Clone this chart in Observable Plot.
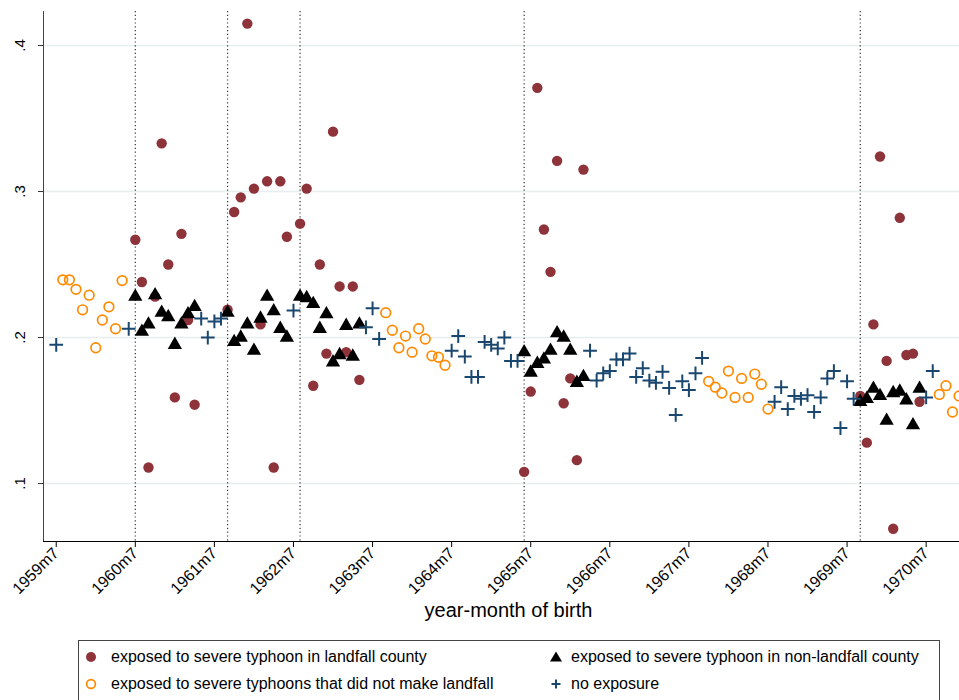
<!DOCTYPE html>
<html><head><meta charset="utf-8">
<script src="https://cdn.jsdelivr.net/npm/d3@7"></script>
<script src="https://cdn.jsdelivr.net/npm/@observablehq/plot@0.6"></script>
<style>
html,body{margin:0;padding:0;background:#fff;overflow:hidden;}
body{font-family:"Liberation Sans",Arial,Helvetica,sans-serif;color:#000;}
#legend{position:relative;margin:10px 0 0 78px;width:862px;height:80px;border:1px solid #444;box-sizing:border-box;font-size:16px;}
#legend .sym{position:absolute;}
#legend .lab{position:absolute;line-height:18px;white-space:nowrap;}
</style></head>
<body>
<div id="chart"></div>
<div id="legend"></div>
<script>
// month index: 0 = 1959m7
const xTickMonths = [0,12,24,36,48,60,72,84,96,108,120,132];
const xTickLabels = ["1959m7","1960m7","1961m7","1962m7","1963m7","1964m7","1965m7","1966m7","1967m7","1968m7","1969m7","1970m7"];
const yTicks = [0.1,0.2,0.3,0.4];
const yTickLabels = [".1",".2",".3",".4"];
const eventMonths = [12,26,37,71,122];
const xTitle = "year-month of birth";

const landfallMonths = [12,13,14,15,16,17,18,19,20,21, 26,27,28,29,30,31,32,33,34,35,37,38,39,40,41,42,43,44,45,46, 71,72,73,74,75,76,77,78,79,80, 122,123,124,125,126,127,128,129,130,131];
const landfallValues = [.267,.238,.111,.228,.333,.250,.159,.271,.212,.154, .219,.286,.296,.415,.302,.209,.307,.111,.307,.269,.278,.302,.167,.250,.189,.341,.235,.190,.235,.171, .108,.163,.371,.274,.245,.321,.155,.172,.116,.315, .160,.128,.209,.324,.184,.069,.282,.188,.189,.156];

const nonLandfallMonths = [12,13,14,15,16,17,18,19,20,21, 26,27,28,29,30,31,32,33,34,35,37,38,39,40,41,42,43,44,45,46, 71,72,73,74,75,76,77,78,79,80, 122,123,124,125,126,127,128,129,130,131];
const nonLandfallValues = [.228,.204,.209,.229,.217,.214,.195,.209,.216,.221, .217,.197,.200,.209,.191,.213,.228,.218,.206,.200,.228,.227,.223,.206,.216,.183,.188,.208,.187,.209, .190,.176,.182,.185,.191,.203,.200,.191,.169,.173, .156,.158,.165,.160,.143,.162,.163,.157,.140,.165];

const noLandMonths = [1,2,3,4,5,6,7,8,9,10, 50,51,52,53,54,55,56,57,58,59, 99,100,101,102,103,104,105,106,107,108, 134,135,136,137];
const noLandValues = [.2395,.2395,.233,.219,.229,.193,.212,.221,.206,.239, .217,.205,.193,.201,.190,.206,.199,.1875,.1865,.181, .170,.166,.162,.177,.159,.172,.159,.175,.168,.151, .161,.167,.149,.160];

const noExpMonths = [0,11,22,23,24,25,36,47,48,49, 60,61,62,63,64,65,66,67,68,69,70, 81,82,83,84,85,86,87,88,89,90,91,92,93,94,95,96,97,98, 109,110,111,112,113,114,115,116,117,118,119,120,121, 132,133];
const noExpValues = [.195,.206,.213,.200,.211,.213,.2185,.207,.220,.199, .191,.201,.187,.173,.173,.197,.195,.1925,.200,.184,.184, .191,.1705,.1755,.177,.185,.185,.189,.173,.179,.1705,.169,.1765,.1655,.147,.170,.164,.1755,.186, .156,.166,.151,.160,.158,.1605,.149,.159,.172,.177,.138,.170,.158, .159,.177];

const seriesLabels = ["exposed to severe typhoon in landfall county","exposed to severe typhoon in non-landfall county","exposed to severe typhoons that did not make landfall","no exposure"];
const colors = {red:"#8e3339", tri:"#000000", orange:"#ff8a00", blue:"#1a476f"};

const zip = (ms, vs) => ms.map((m,i)=>({t:m, v:vs[i]}));
const landfall = zip(landfallMonths, landfallValues);
const nonLandfall = zip(nonLandfallMonths, nonLandfallValues);
const noLand = zip(noLandMonths, noLandValues);
const noExp = zip(noExpMonths, noExpValues);

const W = 959, H = 630;
const xDom = [-1.93, 137.06], yDom = [0.0603, 0.4233];
const font = '"Liberation Sans", Arial, Helvetica, sans-serif';

const chart = Plot.plot({
  width: W, height: H,
  marginLeft: 43, marginRight: 0, marginTop: 11, marginBottom: H - 541,
  style: {fontFamily: font, background: "white", overflow: "visible", color: "#000"},
  x: {domain: xDom},
  y: {domain: yDom},
  marks: [
    Plot.gridY(yTicks, {stroke: "#e6eef0", strokeOpacity: 1, strokeWidth: 1.5}),
    Plot.ruleX(eventMonths, {stroke: "#333", strokeDasharray: "1.2,2.6", strokeWidth: 1.2}),
    Plot.ruleX([xDom[0]], {stroke: "#444", strokeWidth: 1}),
    Plot.ruleY([yDom[0]], {stroke: "#000", strokeWidth: 1}),
    Plot.axisY(yTicks, {tickFormat: d => yTickLabels[yTicks.indexOf(d)], tickRotate: -90, tickSize: 5, tickPadding: 14, fontSize: 15, label: null, stroke: "#333"}),
    Plot.axisX(xTickMonths, {tickFormat: d => xTickLabels[xTickMonths.indexOf(d)], tickRotate: -45, tickSize: 6, tickPadding: 3, fontSize: 16, label: null, stroke: "#000"}),
    Plot.dot(landfall, {x: "t", y: "v", r: 5.2, fill: colors.red, stroke: "none"}),
    Plot.dot(nonLandfall, {x: "t", y: "v", symbol: "triangle", r: 5.3, fill: colors.tri, stroke: "none"}),
    Plot.dot(noLand, {x: "t", y: "v", r: 4.8, fill: "none", stroke: colors.orange, strokeWidth: 1.7}),
    Plot.dot(noExp, {x: "t", y: "v", symbol: "plus", r: 4.5, stroke: colors.blue, strokeWidth: 2}),
    Plot.text([xTitle], {frameAnchor: "bottom", dx: 7, dy: 75, fontSize: 20, fill: "#000"})
  ]
});
document.getElementById("chart").appendChild(chart);

// legend
const lg = document.getElementById("legend");
const items = [
  {label: seriesLabels[0], col: 0, row: 0, svg: `<circle cx="8" cy="8" r="5" fill="${colors.red}"/>`},
  {label: seriesLabels[1], col: 1, row: 0, svg: `<path d="M8,2.5 L14,12.5 L2,12.5 Z" fill="#000"/>`},
  {label: seriesLabels[2], col: 0, row: 1, svg: `<circle cx="8" cy="8" r="4.4" fill="none" stroke="${colors.orange}" stroke-width="1.7"/>`},
  {label: seriesLabels[3], col: 1, row: 1, svg: `<path d="M8,3.5 V12.5 M3.5,8 H12.5" stroke="${colors.blue}" stroke-width="2"/>`}
];
const colSym = [12 - 8 + 0, 477 - 8], colLab = [32, 492], rowY = [17, 44];
items.forEach(it => {
  const s = document.createElement("div");
  s.className = "sym";
  s.style.left = colSym[it.col] + "px";
  s.style.top = (rowY[it.row] - 8 - 1) + "px";
  s.innerHTML = `<svg width="16" height="16">${it.svg}</svg>`;
  lg.appendChild(s);
  const l = document.createElement("div");
  l.className = "lab";
  l.style.left = colLab[it.col] + "px";
  l.style.top = (rowY[it.row] - 9 - 1) + "px";
  l.textContent = it.label;
  lg.appendChild(l);
});
</script>
</body></html>
